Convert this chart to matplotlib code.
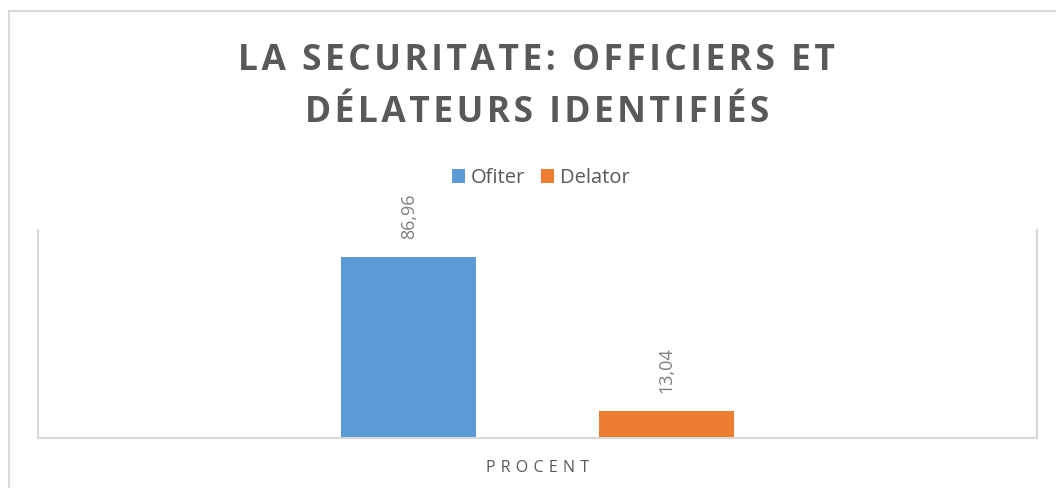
import matplotlib.pyplot as plt
from matplotlib.lines import Line2D

# Data
category = "PROCENT"
series_names = ["Ofiter", "Delator"]
series_values = [86.96, 13.04]
value_labels = ["86,96", "13,04"]
colors = ["#5b9bd5", "#ed7d31"]

title_lines = ["LA SECURITATE: OFFICIERS ET", "DÉLATEURS IDENTIFIÉS"]

plt.rcParams["font.family"] = ["Open Sans", "DejaVu Sans"]

fig = plt.figure(figsize=(10.56, 4.88), dpi=100)
ax = fig.add_axes([38 / 1056, 50 / 488, 999 / 1056, 208 / 488])

# Bars (clustered, one category)
offsets = [-0.129, 0.1295]
bar_width = 0.135
for name, val, lab, col, off in zip(series_names, series_values, value_labels, colors, offsets):
    ax.bar(off, val, width=bar_width, color=col, label=name)
    ax.annotate(lab, (off, val), xytext=(0, 13), textcoords="offset points",
                rotation=90, ha="center", va="bottom", fontsize=13, color="#7f7f7f")

ax.set_xlim(-0.5, 0.5)
ax.set_ylim(0, 100)
ax.set_xticks([])
ax.set_yticks([])
ax.spines["top"].set_visible(False)
for side in ["left", "right", "bottom"]:
    ax.spines[side].set_color("#d9d9d9")
    ax.spines[side].set_linewidth(1.5)

# Category label with letter spacing
fig.text(537 / 1056, 1 - 468 / 488, "\u2009\u2009".join(category), ha="center", va="center",
         fontsize=11.5, color="#595959")

# Title (spaced capitals)
spaced = "\n".join("\u200a".join(line) for line in title_lines)
fig.text(537 / 1056, 1 - 43 / 488, spaced,
         ha="center", va="top", fontsize=25.5, fontweight="bold", color="#595959",
         linespacing=1.6)

# Legend
fig.legend(loc="center", bbox_to_anchor=(541 / 1056, 1 - 178 / 488), ncol=2, frameon=False,
           fontsize=14.5, handlelength=0.65, handleheight=0.65, handletextpad=0.3,
           columnspacing=0.8, labelcolor="#595959")

# Outer chart border (left and top only visible)
fig.add_artist(Line2D([9 / 1056, 9 / 1056], [0, 1 - 11 / 488], transform=fig.transFigure,
                      color="#d9d9d9", linewidth=1.5))
fig.add_artist(Line2D([9 / 1056, 1], [1 - 11 / 488, 1 - 11 / 488], transform=fig.transFigure,
                      color="#d9d9d9", linewidth=1.5))

fig.savefig("out.png", dpi=100, facecolor="white")
